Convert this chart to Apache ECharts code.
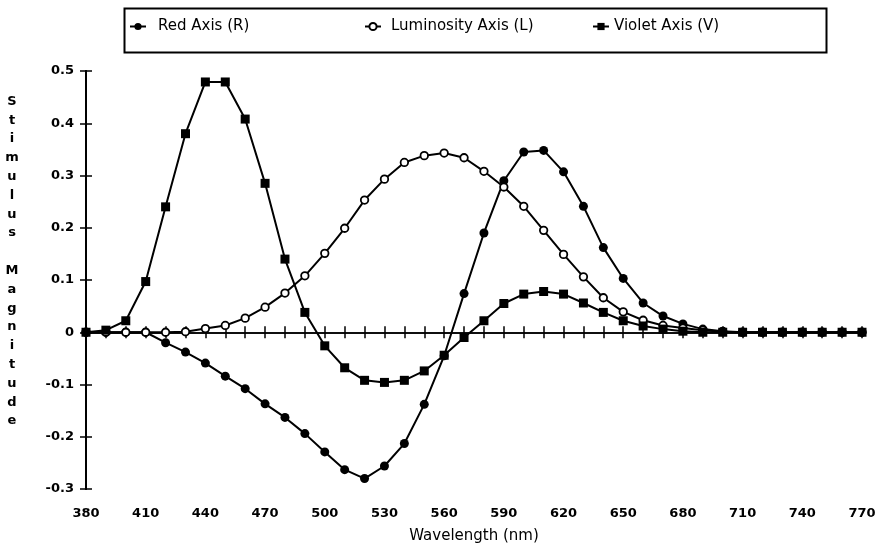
<!DOCTYPE html>
<html>
<head>
<meta charset="utf-8">
<script src="https://cdn.jsdelivr.net/npm/echarts@6/dist/echarts.min.js"></script>
<style>
html,body{margin:0;padding:0;background:#fff;}
#chart{width:886px;height:551px;}
</style>
</head>
<body>
<div id="chart"></div>
<script>
// ---- data ----
const wavelengths = ['380','390','400','410','420','430','440','450','460','470',
                     '480','490','500','510','520','530','540','550','560','570',
                     '580','590','600','610','620','630','640','650','660','670',
                     '680','690','700','710','720','730','740','750','760','770'];

const redAxis = [0, 0, 0, 0, -0.020, -0.038, -0.059, -0.084, -0.108, -0.137,
                 -0.163, -0.194, -0.229, -0.263, -0.280, -0.256, -0.213, -0.138, -0.045, 0.074,
                 0.190, 0.290, 0.345, 0.348, 0.307, 0.241, 0.162, 0.103, 0.056, 0.031,
                 0.016, 0.006, 0.002, 0, 0, 0, 0, 0, 0, 0];

const luminosityAxis = [0, 0, 0, 0, 0, 0.001, 0.007, 0.013, 0.027, 0.048,
                        0.075, 0.108, 0.151, 0.199, 0.253, 0.293, 0.325, 0.338, 0.343, 0.334,
                        0.308, 0.278, 0.241, 0.195, 0.149, 0.106, 0.066, 0.039, 0.023, 0.013,
                        0.008, 0.004, 0.001, 0, 0, 0, 0, 0, 0, 0];

const violetAxis = [0, 0.004, 0.022, 0.097, 0.240, 0.380, 0.479, 0.479, 0.408, 0.285,
                    0.140, 0.038, -0.026, -0.068, -0.092, -0.096, -0.092, -0.074, -0.044, -0.010,
                    0.022, 0.055, 0.073, 0.078, 0.073, 0.056, 0.038, 0.022, 0.012, 0.006,
                    0.002, 0, 0, 0, 0, 0, 0, 0, 0, 0];

const yTickLabels = ['-0.3', '-0.2', '-0.1', '0', '0.1', '0.2', '0.3', '0.4', '0.5'];

const seriesNames = ['Red Axis (R)', 'Luminosity Axis (L)', 'Violet Axis (V)'];
const xAxisName = 'Wavelength (nm)';
const yAxisName = 'Stimulus  Magnitude';

// ---- chart ----
const FONT = 'DejaVu Sans';
const chart = echarts.init(document.getElementById('chart'), null, {renderer: 'canvas'});

function yLabel(v) {
  const idx = Math.round((v + 0.3) * 10);
  return yTickLabels[idx] !== undefined ? yTickLabels[idx] : '';
}

const yNameText = yAxisName.split(' ').map(w => w.split('').join('\n')).join('\n');

const legendText = {color: '#000', fontFamily: FONT, fontSize: 15};

const option = {
  animation: false,
  backgroundColor: '#fff',
  grid: {left: 86, right: 24, top: 71, bottom: 62, containLabel: false},
  legend: [
    {data: [seriesNames[0]], left: 129, top: 19, padding: 0, itemWidth: 16, itemHeight: 9,
     textStyle: Object.assign({}, legendText, {padding: [0, 0, 0, 7]})},
    {data: [seriesNames[1]], left: 364, top: 19, padding: 0, itemWidth: 16, itemHeight: 9,
     textStyle: Object.assign({}, legendText, {padding: [0, 0, 0, 5]})},
    {data: [seriesNames[2]], left: 592, top: 19, padding: 0, itemWidth: 16, itemHeight: 9,
     textStyle: Object.assign({}, legendText, {padding: [0, 0, 0, 0]})}
  ],
  xAxis: [
    {
      type: 'category', data: wavelengths, boundaryGap: false, position: 'bottom',
      axisLine: {show: true, onZero: true, onZeroAxisIndex: 0, lineStyle: {color: '#000', width: 1.5}},
      axisTick: {show: true, inside: true, length: 6, interval: 0, lineStyle: {color: '#000', width: 1.5}},
      axisLabel: {show: false},
      splitLine: {show: false}
    },
    {
      type: 'category', data: wavelengths, boundaryGap: false, position: 'bottom',
      axisLine: {show: true, onZero: true, onZeroAxisIndex: 1, lineStyle: {color: '#000', width: 1.5}},
      axisTick: {show: true, inside: false, length: 6, interval: 0, lineStyle: {color: '#000', width: 1.5}},
      axisLabel: {show: false},
      splitLine: {show: false}
    },
    {
      type: 'category', data: wavelengths, boundaryGap: false, position: 'bottom',
      axisLine: {show: false, onZero: false},
      axisTick: {show: false},
      axisLabel: {show: true, interval: 2, margin: 18, color: '#000', fontFamily: FONT, fontSize: 13, fontWeight: 'bold'},
      splitLine: {show: false},
      name: xAxisName, nameLocation: 'middle', nameGap: 40,
      nameTextStyle: {color: '#000', fontFamily: FONT, fontSize: 15}
    }
  ],
  yAxis: [
    {
      type: 'value', min: -0.3, max: 0.5, interval: 0.1, position: 'left',
      axisLine: {show: true, onZero: false, lineStyle: {color: '#000', width: 2}},
      axisTick: {show: true, inside: false, length: 6, lineStyle: {color: '#000', width: 1.5}},
      axisLabel: {show: true, margin: 12, color: '#000', fontFamily: FONT, fontSize: 13, fontWeight: 'bold', formatter: yLabel},
      splitLine: {show: false}
    },
    {
      type: 'value', min: -0.3, max: 0.5, interval: 0.1, position: 'left',
      axisLine: {show: true, onZero: false, lineStyle: {color: '#000', width: 2}},
      axisTick: {show: true, inside: true, length: 6, lineStyle: {color: '#000', width: 1.5}},
      axisLabel: {show: false},
      splitLine: {show: false}
    }
  ],
  graphic: [
    {
      type: 'rect', left: 122, top: 6, z: 10,
      shape: {width: 702, height: 44},
      style: {fill: 'none', stroke: '#000', lineWidth: 2}
    },
    {
      type: 'text', x: 12, y: 92, z: 10,
      style: {text: yNameText, font: 'bold 13px ' + FONT, lineHeight: 18.8,
              align: 'center', verticalAlign: 'top', fill: '#000'}
    }
  ],
  series: [
    {
      name: seriesNames[0], type: 'line', xAxisIndex: 0, yAxisIndex: 0, data: redAxis,
      symbol: 'circle', symbolSize: 9, showAllSymbol: true,
      lineStyle: {color: '#000', width: 2},
      itemStyle: {color: '#000', borderColor: '#000', borderWidth: 0}
    },
    {
      name: seriesNames[1], type: 'line', xAxisIndex: 0, yAxisIndex: 0, data: luminosityAxis,
      symbol: 'circle', symbolSize: 7.5, showAllSymbol: true,
      lineStyle: {color: '#000', width: 2},
      itemStyle: {color: '#fff', borderColor: '#000', borderWidth: 1.8}
    },
    {
      name: seriesNames[2], type: 'line', xAxisIndex: 0, yAxisIndex: 0, data: violetAxis,
      symbol: 'rect', symbolSize: 9, showAllSymbol: true,
      lineStyle: {color: '#000', width: 2},
      itemStyle: {color: '#000', borderColor: '#000', borderWidth: 0}
    }
  ]
};

chart.setOption(option);
</script>
</body>
</html>
